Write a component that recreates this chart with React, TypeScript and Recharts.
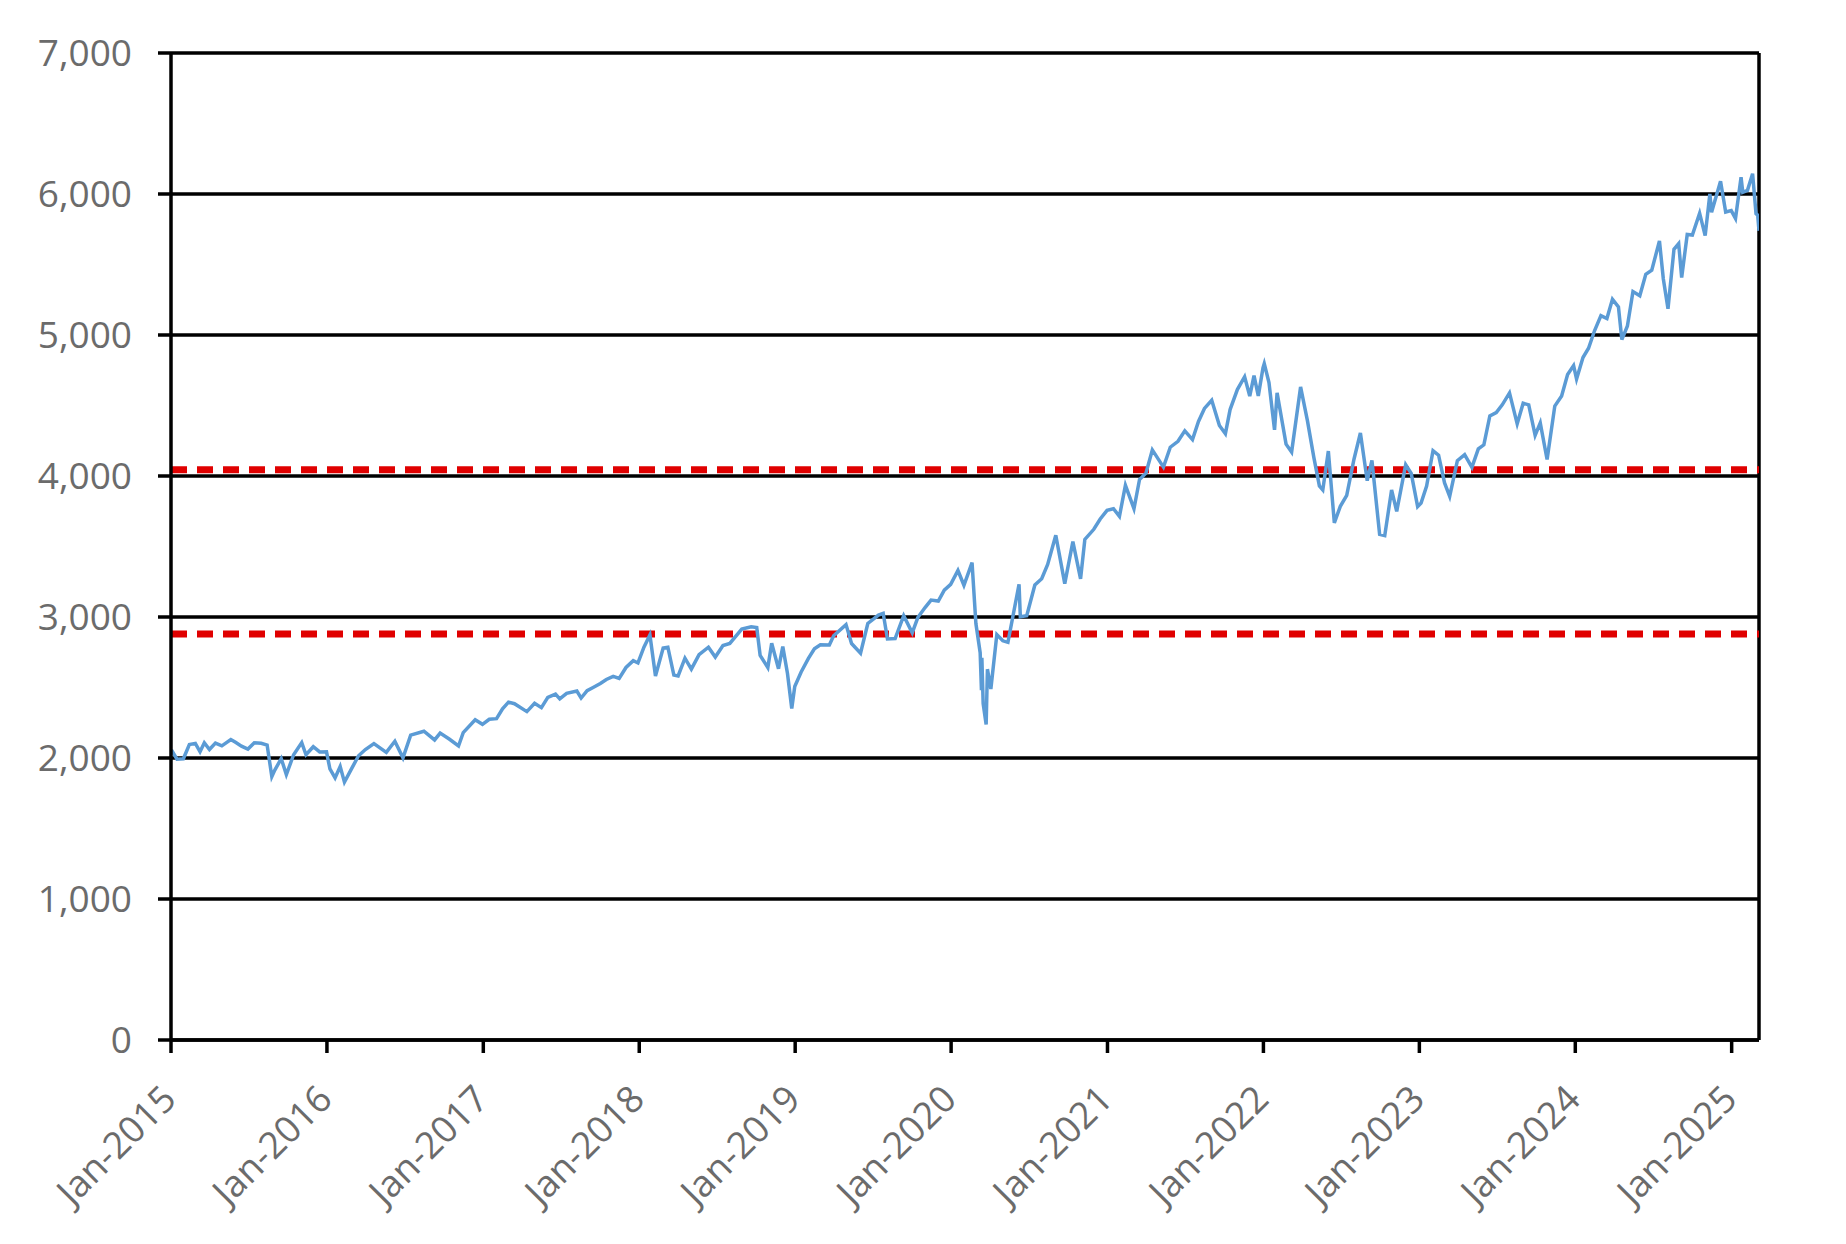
import React from "react"
import { CartesianGrid, Line, LineChart, ReferenceLine, XAxis, YAxis } from "recharts"

// S&P 500 closes (roughly every two weeks, more around sharp moves)
const y2015: [string, number][] = [
  ["2015-01-02", 2058], ["2015-01-15", 1992], ["2015-01-30", 1995], ["2015-02-13", 2096],
  ["2015-02-27", 2104], ["2015-03-10", 2044], ["2015-03-20", 2108], ["2015-04-01", 2060],
  ["2015-04-15", 2106], ["2015-04-30", 2086], ["2015-05-21", 2131], ["2015-06-01", 2111],
  ["2015-06-15", 2084], ["2015-06-30", 2063], ["2015-07-15", 2108], ["2015-07-31", 2104],
  ["2015-08-14", 2092], ["2015-08-25", 1868], ["2015-09-01", 1914], ["2015-09-16", 1996],
  ["2015-09-28", 1882], ["2015-10-15", 2023], ["2015-11-03", 2109], ["2015-11-13", 2023],
  ["2015-11-30", 2080], ["2015-12-15", 2043], ["2015-12-31", 2044],
]

const y2016: [string, number][] = [
  ["2016-01-08", 1922], ["2016-01-20", 1859], ["2016-02-01", 1940], ["2016-02-11", 1829],
  ["2016-02-29", 1932], ["2016-03-15", 2016], ["2016-03-31", 2060], ["2016-04-20", 2102],
  ["2016-05-19", 2040], ["2016-06-08", 2119], ["2016-06-27", 2001], ["2016-07-15", 2162],
  ["2016-08-15", 2190], ["2016-09-09", 2128], ["2016-09-22", 2177], ["2016-10-14", 2133],
  ["2016-11-04", 2085], ["2016-11-15", 2180], ["2016-12-13", 2271], ["2016-12-30", 2239],
]

const y2017: [string, number][] = [
  ["2017-01-15", 2275], ["2017-02-01", 2279], ["2017-02-15", 2349], ["2017-03-01", 2396],
  ["2017-03-15", 2385], ["2017-04-13", 2329], ["2017-05-01", 2388], ["2017-05-17", 2357],
  ["2017-06-01", 2430], ["2017-06-19", 2453], ["2017-06-29", 2419], ["2017-07-15", 2459],
  ["2017-08-08", 2475], ["2017-08-18", 2425], ["2017-09-01", 2477], ["2017-09-15", 2500],
  ["2017-10-02", 2529], ["2017-10-16", 2557], ["2017-11-01", 2579], ["2017-11-15", 2564],
  ["2017-12-01", 2642], ["2017-12-18", 2690], ["2017-12-29", 2674],
]

const y2018: [string, number][] = [
  ["2018-01-12", 2786], ["2018-01-26", 2873], ["2018-02-08", 2581], ["2018-02-26", 2780],
  ["2018-03-09", 2786], ["2018-03-23", 2588], ["2018-04-02", 2582], ["2018-04-18", 2708],
  ["2018-05-03", 2630], ["2018-05-21", 2733], ["2018-06-12", 2786], ["2018-06-28", 2716],
  ["2018-07-16", 2798], ["2018-08-01", 2813], ["2018-08-29", 2914], ["2018-09-20", 2931],
  ["2018-10-03", 2925], ["2018-10-11", 2728], ["2018-10-29", 2641], ["2018-11-07", 2814],
  ["2018-11-23", 2633], ["2018-12-03", 2790], ["2018-12-14", 2599], ["2018-12-24", 2351],
  ["2018-12-31", 2507],
]

const y2019: [string, number][] = [
  ["2019-01-15", 2610], ["2019-02-01", 2706], ["2019-02-15", 2775], ["2019-03-01", 2803],
  ["2019-03-22", 2801], ["2019-04-01", 2867], ["2019-04-30", 2946], ["2019-05-13", 2812],
  ["2019-06-03", 2744], ["2019-06-20", 2954], ["2019-07-15", 3014], ["2019-07-26", 3026],
  ["2019-08-05", 2844], ["2019-08-23", 2847], ["2019-09-12", 3009], ["2019-10-02", 2888],
  ["2019-10-15", 2996], ["2019-11-01", 3067], ["2019-11-15", 3120], ["2019-12-02", 3113],
  ["2019-12-16", 3191], ["2019-12-31", 3231],
]

const y2020: [string, number][] = [
  ["2020-01-17", 3330], ["2020-01-31", 3225], ["2020-02-19", 3386], ["2020-02-28", 2954],
  ["2020-03-09", 2747], ["2020-03-12", 2481], ["2020-03-13", 2711], ["2020-03-16", 2386],
  ["2020-03-23", 2237], ["2020-03-26", 2630], ["2020-04-03", 2489], ["2020-04-17", 2875],
  ["2020-05-01", 2831], ["2020-05-13", 2820], ["2020-06-08", 3232], ["2020-06-11", 3002],
  ["2020-06-26", 3009], ["2020-07-15", 3227], ["2020-07-31", 3271], ["2020-08-14", 3373],
  ["2020-09-02", 3580], ["2020-09-23", 3237], ["2020-10-12", 3535], ["2020-10-30", 3270],
  ["2020-11-09", 3550], ["2020-11-30", 3622], ["2020-12-15", 3695], ["2020-12-31", 3756],
]

const y2021: [string, number][] = [
  ["2021-01-15", 3768], ["2021-01-29", 3714], ["2021-02-12", 3934], ["2021-03-04", 3768],
  ["2021-03-17", 3975], ["2021-04-01", 4020], ["2021-04-16", 4185], ["2021-05-12", 4063],
  ["2021-05-28", 4204], ["2021-06-15", 4246], ["2021-07-01", 4320], ["2021-07-19", 4258],
  ["2021-08-02", 4387], ["2021-08-16", 4479], ["2021-09-02", 4537], ["2021-09-20", 4358],
  ["2021-10-04", 4300], ["2021-10-15", 4471], ["2021-11-01", 4613], ["2021-11-18", 4704],
  ["2021-11-30", 4567], ["2021-12-10", 4712], ["2021-12-20", 4568], ["2021-12-31", 4766],
]

const y2022: [string, number][] = [
  ["2022-01-03", 4797], ["2022-01-14", 4663], ["2022-01-27", 4327], ["2022-02-02", 4590],
  ["2022-02-23", 4226], ["2022-03-08", 4170], ["2022-03-29", 4632], ["2022-04-14", 4393],
  ["2022-04-29", 4132], ["2022-05-12", 3930], ["2022-05-20", 3901], ["2022-06-02", 4177],
  ["2022-06-16", 3667], ["2022-06-30", 3785], ["2022-07-15", 3863], ["2022-08-01", 4119],
  ["2022-08-16", 4305], ["2022-09-01", 3967], ["2022-09-12", 4110], ["2022-09-30", 3586],
  ["2022-10-12", 3577], ["2022-10-28", 3901], ["2022-11-09", 3749], ["2022-11-30", 4080],
  ["2022-12-13", 4019], ["2022-12-28", 3783],
]

const y2023: [string, number][] = [
  ["2023-01-05", 3808], ["2023-01-18", 3928], ["2023-02-02", 4179], ["2023-02-15", 4148],
  ["2023-03-01", 3951], ["2023-03-13", 3855], ["2023-03-31", 4109], ["2023-04-17", 4151],
  ["2023-05-04", 4061], ["2023-05-19", 4192], ["2023-06-01", 4221], ["2023-06-15", 4426],
  ["2023-06-30", 4450], ["2023-07-14", 4505], ["2023-07-31", 4589], ["2023-08-18", 4370],
  ["2023-09-01", 4516], ["2023-09-14", 4505], ["2023-09-29", 4288], ["2023-10-11", 4377],
  ["2023-10-27", 4117], ["2023-11-14", 4496], ["2023-11-30", 4568], ["2023-12-14", 4720],
  ["2023-12-28", 4783],
]

const y2024: [string, number][] = [
  ["2024-01-04", 4688], ["2024-01-19", 4840], ["2024-02-01", 4906], ["2024-02-15", 5030],
  ["2024-03-01", 5137], ["2024-03-15", 5117], ["2024-03-28", 5254], ["2024-04-11", 5199],
  ["2024-04-19", 4967], ["2024-05-02", 5064], ["2024-05-15", 5308], ["2024-05-31", 5278],
  ["2024-06-14", 5431], ["2024-06-28", 5460], ["2024-07-16", 5667], ["2024-07-25", 5399],
  ["2024-08-05", 5186], ["2024-08-19", 5608], ["2024-08-30", 5648], ["2024-09-06", 5408],
  ["2024-09-19", 5713], ["2024-10-01", 5709], ["2024-10-18", 5864], ["2024-10-31", 5705],
  ["2024-11-11", 6001], ["2024-11-15", 5870], ["2024-12-06", 6090], ["2024-12-18", 5872],
  ["2024-12-31", 5882],
]

const y2025: [string, number][] = [
  ["2025-01-10", 5827], ["2025-01-23", 6119], ["2025-01-27", 6012], ["2025-02-07", 6026],
  ["2025-02-19", 6144], ["2025-02-27", 5861], ["2025-03-03", 5849], ["2025-03-06", 5739],
]

const tickYears = [2015, 2016, 2017, 2018, 2019, 2020, 2021, 2022, 2023, 2024, 2025]
const yTicks = [0, 1000, 2000, 3000, 4000, 5000, 6000, 7000]
const redLevels = [4045, 2880]

const data = [...y2015, ...y2016, ...y2017, ...y2018, ...y2019, ...y2020, ...y2021, ...y2022, ...y2023, ...y2024, ...y2025].map(
  ([d, v]) => ({ t: Date.parse(d), close: v })
)

const xStart = Date.UTC(2015, 0, 1)
const xEnd = Date.UTC(2025, 2, 6)
const xTicks = tickYears.map((y) => Date.UTC(y, 0, 1))

const FONT = "'Open Sans', 'Liberation Sans', sans-serif"
const LABEL = "#6b6b6b"

function XTick({ x, y, payload }: any) {
  const label = "Jan-" + new Date(payload.value).getUTCFullYear()
  return (
    <text
      transform={`translate(${x - 3},${y + 36}) rotate(-45)`}
      textAnchor="end"
      dominantBaseline="central"
      fill={LABEL}
      fontSize={37}
      fontFamily={FONT}
    >
      {label}
    </text>
  )
}

export default function App() {
  return (
    <div style={{ width: 1830, height: 1228 }}>
      <LineChart width={1830} height={1228} data={data} margin={{ top: 45, right: 79, left: 0, bottom: 6 }}>
        <CartesianGrid horizontal vertical={false} stroke="#000" strokeWidth={3.5} />
        <XAxis
          dataKey="t"
          type="number"
          domain={[xStart, xEnd]}
          ticks={xTicks}
          allowDataOverflow
          height={190}
          tickSize={13}
          axisLine={{ stroke: "#000", strokeWidth: 3.5 }}
          tickLine={{ stroke: "#000", strokeWidth: 3.5 }}
          tick={<XTick />}
          interval={0}
        />
        <YAxis
          domain={[0, 7000]}
          ticks={yTicks}
          width={163}
          tickSize={13}
          tickMargin={26}
          axisLine={{ stroke: "#000", strokeWidth: 3.5 }}
          tickLine={{ stroke: "#000", strokeWidth: 3.5 }}
          tick={{ fill: LABEL, fontSize: 37, fontFamily: FONT }}
          tickFormatter={(v: number) => v.toLocaleString("en-US")}
          interval={0}
        />
        <ReferenceLine x={xEnd} stroke="#000" strokeWidth={3.5} />
        {redLevels.map((lvl) => (
          <ReferenceLine key={lvl} y={lvl} stroke="#e00000" strokeWidth={7} strokeDasharray="16 10" />
        ))}
        <Line
          type="linear"
          dataKey="close"
          stroke="#5b9bd5"
          strokeWidth={3.5}
          dot={false}
          isAnimationActive={false}
        />
      </LineChart>
    </div>
  )
}
